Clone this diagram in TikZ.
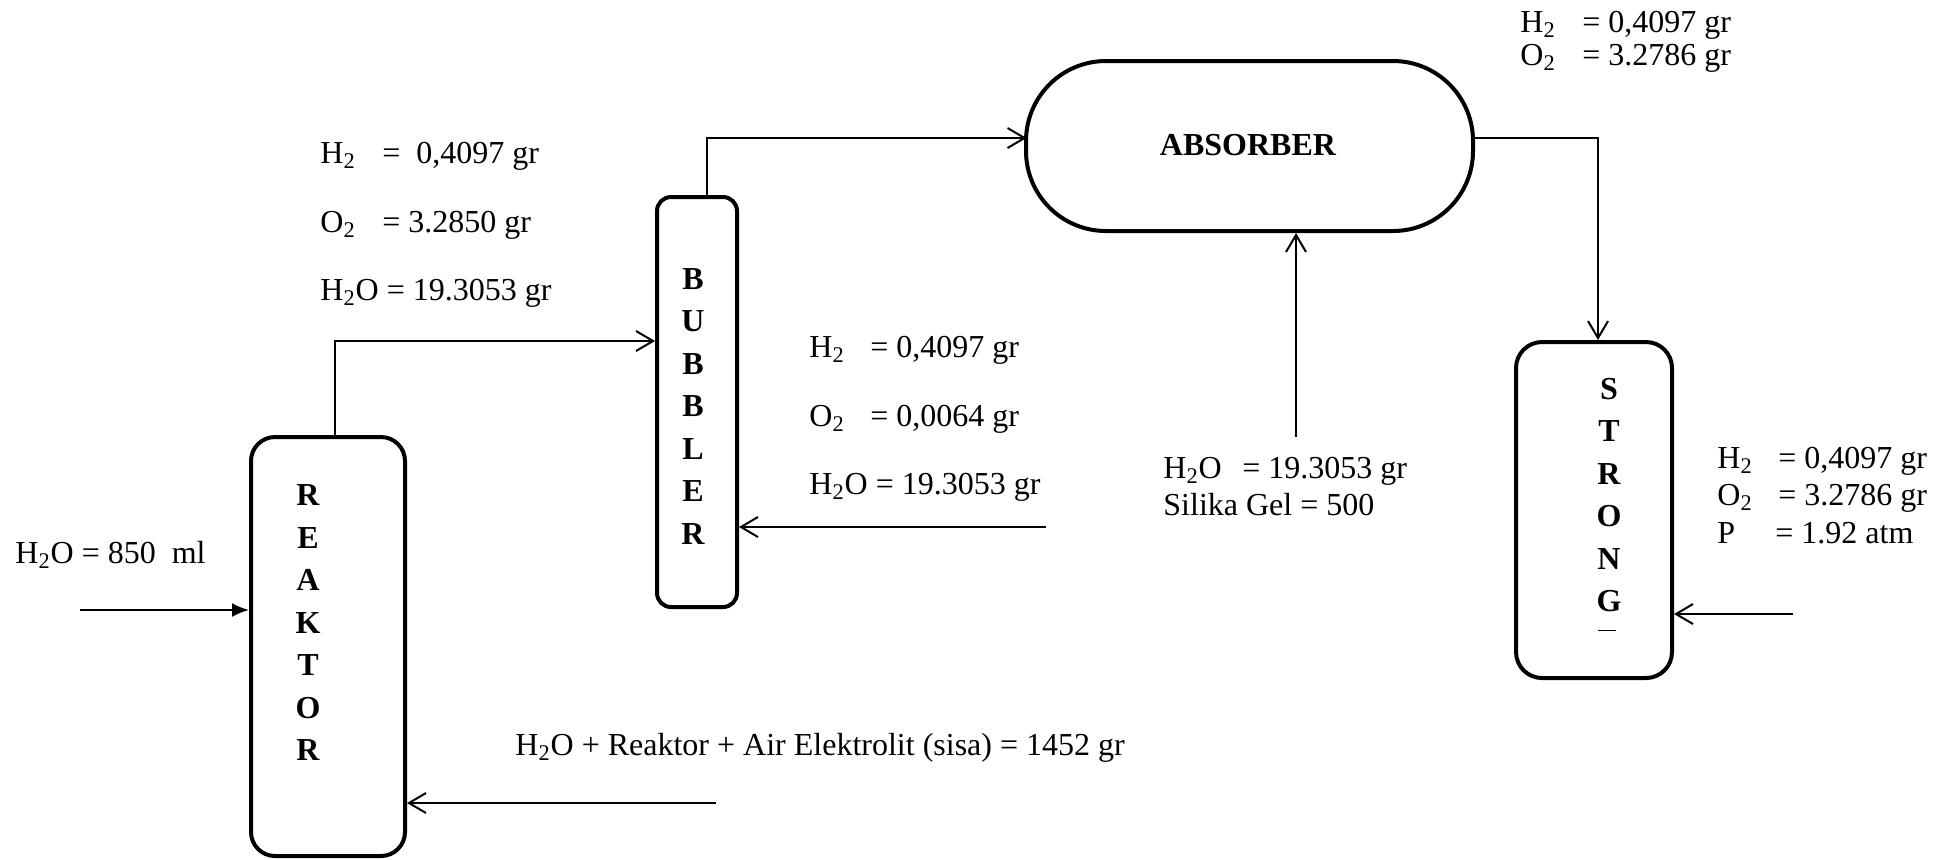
\documentclass[tikz,border=0pt]{standalone}
\usepackage{fontspec}
\setmainfont{Liberation Serif}
\usetikzlibrary{arrows.meta}
\newcommand{\chsub}[1]{\textsubscript{#1}}
\newcommand{\lbx}[2]{\makebox[#1][l]{#2}}
\begin{document}
\begin{tikzpicture}[x=0.5pt,y=-0.5pt,
  vessel/.style={draw, line width=2pt, rounded corners=#1, inner sep=0pt},
  lbl/.style={anchor=base west, inner sep=0pt, font=\fontsize{16}{19}\selectfont},
  stack/.style={align=center, inner sep=0pt, font=\fontsize{16}{21.25}\selectfont\bfseries},
  flow/.style={line width=1pt, -{Straight Barb[length=8.5pt,width=10pt]}},
  feedin/.style={line width=1pt, -{Latex[length=8.5pt,width=7pt]}}]
\useasboundingbox (0,0) rectangle (1946,859);

% vessels
\node[vessel=12pt, minimum width=77pt, minimum height=209.5pt] (reaktor) at (328,646.5) {};
\node[vessel=7pt, minimum width=40pt, minimum height=205pt] (bubbler) at (697,402) {};
\node[vessel=40pt, minimum width=223.5pt, minimum height=85pt] (absorber) at (1249.5,146) {};
\node[vessel=13pt, minimum width=78pt, minimum height=168pt] (strong) at (1594,510) {};

% vessel names
\node[stack] (rklbl) at (308,622.5) {R\\E\\A\\K\\T\\O\\R};
\node[stack] (bblbl) at (693,406.5) {B\\U\\B\\B\\L\\E\\R};
\node[stack] (stlbl) at (1609,495) {S\\T\\R\\O\\N\\G};
\node[inner sep=0pt, font=\fontsize{16}{19}\selectfont\bfseries] (ablbl) at (1248,145) {ABSORBER};
\draw[line width=0.5pt] (1598,630) -- (1616,630);

% connectors
\coordinate (h2oin) at (80,610);
\draw[feedin] (h2oin) -- (h2oin -| reaktor.west);
\coordinate (rin) at (716,803);
\draw[flow] (rin) -- (rin -| reaktor.east);
\coordinate (rk1) at (335,341);
\draw[flow] (rk1 |- reaktor.north) -- (rk1) -- (rk1 -| bubbler.west);
\coordinate (bin) at (1046,527);
\draw[flow] (bin) -- (bin -| bubbler.east);
\coordinate (bk1) at (707,138);
\draw[flow] (bk1 |- bubbler.north) -- (bk1) -- (1026.5,138);
\coordinate (ak1) at (1598,138);
\draw[flow] (1472.5,138) -- (ak1) -- (ak1 |- strong.north);
\coordinate (af) at (1296,437);
\draw[flow] (af) -- (af |- absorber.south);
\coordinate (sin) at (1793,614);
\draw[flow] (sin) -- (sin -| strong.east);

% labels
\node[lbl] (l850) at (15,563) {H\chsub{2}O = 850\ \ ml};

\node[lbl] (la1) at (320,163) {\lbx{31pt}{H\chsub{2}}=\ \ 0,4097 gr};
\node[lbl] (la2) at (320,232) {\lbx{31pt}{O\chsub{2}}= 3.2850 gr};
\node[lbl] (la3) at (320,300) {H\chsub{2}O = 19.3053 gr};

\node[lbl] (lb1) at (809,357) {\lbx{30.5pt}{H\chsub{2}}= 0,4097 gr};
\node[lbl] (lb2) at (809,426) {\lbx{30.5pt}{O\chsub{2}}= 0,0064 gr};
\node[lbl] (lb3) at (809,494) {H\chsub{2}O = 19.3053 gr};

\node[lbl] (lc1) at (1163,478) {\lbx{39.5pt}{H\chsub{2}O}= 19.3053 gr};
\node[lbl] (lc2) at (1163,515) {Silika Gel = 500};

\node[lbl] (ld1) at (1520,32) {\lbx{31pt}{H\chsub{2}}= 0,4097 gr};
\node[lbl] (ld2) at (1520,65) {\lbx{31pt}{O\chsub{2}}= 3.2786 gr};

\node[lbl] (le1) at (1717,468) {\lbx{30.5pt}{H\chsub{2}}= 0,4097 gr};
\node[lbl] (le2) at (1717,505) {\lbx{30.5pt}{O\chsub{2}}= 3.2786 gr};
\node[lbl] (le3) at (1717,543) {\lbx{29pt}{P}= 1.92 atm};

\node[lbl] (lf) at (515,755) {H\chsub{2}O + Reaktor + Air Elektrolit (sisa) = 1452 gr};
\end{tikzpicture}
\end{document}
